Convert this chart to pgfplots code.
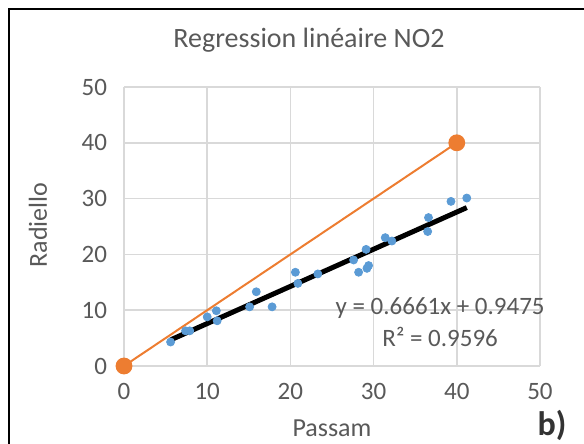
\documentclass[border=0pt]{standalone}
\usepackage{fontspec}
\setmainfont{Carlito}
\usepackage{pgfplots}
\pgfplotsset{compat=1.18}
\definecolor{txt}{HTML}{595959}
\definecolor{grd}{HTML}{D9D9D9}
\definecolor{ptblue}{HTML}{5B9BD5}
\definecolor{xlorange}{HTML}{ED7D31}

\pgfplotstableread{
x y
5.6 4.3
7.4 6.3
7.9 6.3
10.0 8.8
11.1 9.9
11.2 8.1
15.1 10.6
15.9 13.3
17.8 10.6
20.6 16.8
20.9 14.8
23.3 16.5
27.6 19.0
28.2 16.8
29.1 20.9
29.2 17.5
29.4 18.0
31.4 23.0
32.2 22.4
36.6 26.6
36.5 24.1
39.3 29.5
41.2 30.1
}\mesures

\begin{document}
\begin{tikzpicture}[font=\fontsize{13}{15}\selectfont, text=txt]
\useasboundingbox (0,0) rectangle (292pt,222pt);
\draw[black, line width=1pt] (4.5pt,0) -- (4.5pt,217.5pt) -- (292pt,217.5pt);
\begin{axis}[
    at={(62pt,39pt)}, anchor=south west,
    scale only axis,
    width=208pt, height=139.5pt,
    xmin=0, xmax=50, ymin=0, ymax=50,
    xtick={0,10,...,50}, ytick={0,10,...,50},
    grid=major,
    major grid style={grd, line width=0.75pt},
    axis line style={draw=none},
    major tick length=0pt,
    tick label style={txt, font=\fontsize{12.5}{14}\selectfont},
    /pgf/number format/assume math mode=true,
    xticklabel style={yshift=-5pt},
    yticklabel style={xshift=-5pt},
    clip=false,
]
\addplot[xlorange, line width=1pt, mark=*, mark size=3.7pt,
    mark options={fill=xlorange, draw=xlorange}] coordinates {(0,0) (40,40)};
\addplot[only marks, mark=*, mark size=2pt, ptblue,
    mark options={fill=ptblue, draw=ptblue}] table[x=x, y=y] {\mesures};
\addplot[black, line width=2.5pt] coordinates {(5.6,4.678) (41.2,28.39)};
\node[txt, font=\fontsize{12.5}{14}\selectfont] at (axis cs:38,10.4) {y = 0.6661x + 0.9475};
\node[txt, font=\fontsize{12.5}{14}\selectfont] at (axis cs:38,5.2) {R² = 0.9596};
\end{axis}
\node[txt, font=\fontsize{14}{16}\selectfont] at (154.5pt,202pt) {Regression linéaire NO2};
\node[txt, rotate=90] at (19pt,109.5pt) {Radiello};
\node[txt] at (166pt,8pt) {Passam};
\node[black!80, font=\fontsize{17}{19}\selectfont\bfseries] at (276pt,9.5pt) {b)};
\end{tikzpicture}
\end{document}
